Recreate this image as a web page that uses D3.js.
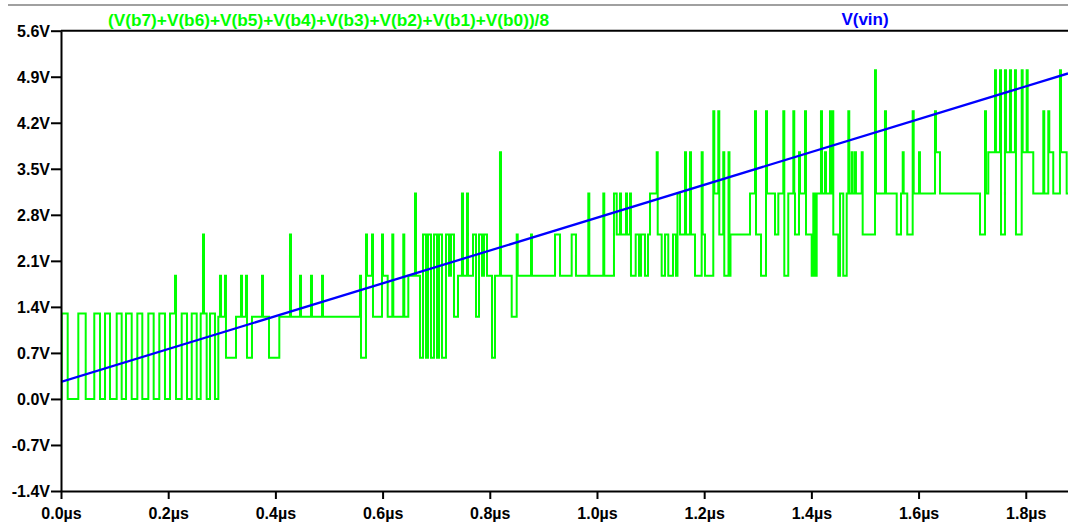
<!DOCTYPE html>
<html>
<head>
<meta charset="utf-8">
<script src="https://cdn.jsdelivr.net/npm/d3@7"></script>
<style>
  html, body { margin: 0; padding: 0; background: #fff; }
  svg { display: block; font-family: "Liberation Sans", Arial, sans-serif; font-weight: bold; }
</style>
</head>
<body>
<svg id="chart" width="1068" height="525"></svg>
<script>
// Transient result: ramp input and the averaged 8-bit converter output.
// Times in ns, voltages in V.

const timeTicks = [0, 200, 400, 600, 800, 1000, 1200, 1400, 1600, 1800];
const voltTicks = [-1.4, -0.7, 0.0, 0.7, 1.4, 2.1, 2.8, 3.5, 4.2, 4.9, 5.6];
const timeSpan = [0, 1878.8];
const voltSpan = [-1.4, 5.6];

const traceNames = ["(V(b7)+V(b6)+V(b5)+V(b4)+V(b3)+V(b2)+V(b1)+V(b0))/8", "V(vin)"];

// V(vin): linear ramp
const vinTime  = [0, 1878.8];
const vinVolts = [0.26, 4.95];

// averaged bit sum, held from each time until the next one
const adcTime = [
  0, 1.3, 12.5, 32.3, 46.1, 62.1, 72.8, 82.1, 91.4, 103.9,
  113.2, 121.3, 131.9, 142.4, 151.7, 162.9, 172.9, 183.4, 194.0, 203.4,
  212.7, 214.6, 225.2, 235.1, 243.9, 253.2, 260.6, 264.9, 266.8, 271.8,
  278.0, 287.3, 293.5, 296.6, 298.5, 306.0, 307.8, 326.5, 335.8, 337.7,
  345.2, 347.0, 356.3, 375.0, 376.9, 388.1, 407.3, 427.2, 429.1, 445.9,
  447.8, 466.4, 468.3, 487.0, 488.8, 557.8, 559.7, 569.0, 570.9, 580.2,
  582.1, 598.9, 600.8, 609.5, 618.1, 620.0, 638.6, 640.5, 648.0, 660.5,
  662.3, 669.8, 675.4, 681.0, 684.7, 690.3, 695.9, 701.5, 705.2, 710.8,
  718.3, 723.9, 727.6, 733.2, 740.7, 748.1, 750.0, 757.5, 759.3, 768.7,
  774.3, 779.9, 785.5, 789.2, 794.8, 804.1, 809.7, 819.0, 820.9, 840.9,
  850.2, 852.1, 876.9, 878.7, 921.7, 931.0, 952.8, 960.8, 983.8, 985.7,
  1011.8, 1013.6, 1031.7, 1036.8, 1042.9, 1044.8, 1054.1, 1056.0, 1061.6, 1063.4,
  1072.2, 1078.4, 1082.1, 1089.6, 1095.2, 1098.9, 1111.4, 1113.3, 1120.7, 1126.9,
  1133.0, 1141.8, 1147.4, 1150.2, 1154.9, 1164.2, 1166.1, 1173.5, 1175.4, 1182.9,
  1195.3, 1197.2, 1201.5, 1217.0, 1218.9, 1226.3, 1228.2, 1235.6, 1237.5, 1245.4,
  1247.2, 1249.1, 1285.5, 1294.8, 1296.7, 1306.0, 1315.3, 1317.2, 1332.1, 1338.3,
  1347.6, 1349.5, 1356.9, 1366.3, 1368.1, 1369.4, 1376.9, 1378.8, 1388.1, 1390.0,
  1400.6, 1403.6, 1406.7, 1409.9, 1417.9, 1419.8, 1425.4, 1427.3, 1434.7, 1436.6,
  1439.0, 1440.9, 1450.2, 1453.4, 1459.5, 1465.9, 1468.9, 1470.7, 1475.2, 1477.1,
  1481.4, 1483.2, 1493.9, 1495.7, 1518.7, 1520.5, 1537.3, 1539.2, 1559.2, 1567.2,
  1570.4, 1572.2, 1578.9, 1589.0, 1590.9, 1600.8, 1602.6, 1630.6, 1632.5, 1640.0,
  1714.6, 1723.9, 1725.8, 1730.1, 1742.6, 1744.4, 1751.9, 1753.8, 1761.2, 1763.1,
  1770.5, 1772.4, 1779.9, 1781.7, 1792.4, 1794.2, 1801.7, 1803.6, 1814.0, 1832.7,
  1834.5, 1842.0, 1843.9, 1851.3, 1863.8, 1865.7, 1876.3, 1878.8
];
const adcVolts = [
  0, 1.3, 0, 1.3, 0, 1.3, 0, 1.3, 0, 1.3,
  0, 1.3, 0, 1.3, 0, 1.3, 0, 1.3, 0, 1.3,
  1.875, 0, 1.3, 0, 1.3, 0, 1.3, 2.5, 1.3, 0,
  1.3, 0, 1.25, 1.875, 1.25, 1.875, 0.625, 1.25, 1.875, 1.25,
  1.875, 0.625, 1.25, 1.875, 1.25, 0.625, 1.25, 2.5, 1.25, 1.875,
  1.25, 1.875, 1.25, 1.875, 1.25, 1.875, 0.625, 2.5, 1.875, 2.5,
  1.25, 2.5, 1.875, 1.25, 2.5, 1.25, 2.5, 1.25, 1.875, 3.125,
  1.875, 0.625, 2.5, 0.625, 2.5, 0.625, 2.5, 0.625, 2.5, 0.625,
  2.5, 1.875, 2.5, 1.25, 1.875, 3.125, 1.875, 3.125, 1.875, 2.5,
  1.25, 2.5, 1.875, 2.5, 1.875, 0.625, 1.875, 3.75, 1.875, 1.25,
  2.5, 1.875, 2.5, 1.875, 2.5, 1.875, 2.5, 1.875, 3.125, 1.875,
  3.125, 1.875, 3.125, 2.5, 3.125, 2.5, 3.125, 2.5, 3.125, 1.875,
  2.5, 1.875, 2.5, 1.875, 2.5, 3.125, 3.75, 2.5, 1.875, 2.5,
  1.875, 2.5, 1.875, 3.125, 2.5, 3.75, 2.5, 3.75, 2.5, 1.875,
  3.75, 2.5, 1.875, 4.375, 3.125, 4.375, 2.5, 3.75, 1.875, 3.75,
  1.875, 2.5, 3.125, 4.375, 2.5, 1.875, 4.375, 3.125, 2.5, 3.125,
  4.375, 1.875, 3.125, 4.375, 3.125, 2.5, 3.75, 3.125, 4.375, 2.5,
  1.875, 3.125, 1.875, 3.125, 4.375, 3.125, 3.75, 3.125, 4.375, 3.125,
  4.375, 2.5, 1.875, 3.125, 1.875, 3.125, 4.375, 3.125, 3.75, 3.125,
  3.75, 3.125, 3.75, 2.5, 5.0, 3.125, 4.375, 3.125, 2.5, 3.125,
  3.75, 3.125, 2.5, 4.375, 3.125, 3.75, 3.125, 4.375, 3.75, 3.125,
  2.5, 4.375, 3.125, 3.75, 5.0, 3.75, 5.0, 2.5, 5.0, 3.75,
  5.0, 3.75, 5.0, 2.5, 5.0, 3.75, 5.0, 3.75, 3.125, 4.375,
  3.125, 4.375, 3.75, 3.125, 5.0, 3.75, 3.125, 3.125
];

const svg = d3.select("#chart");
const plot = { left: 61, right: 1068, top: 30.7, bottom: 491 };

const x = d3.scaleLinear().domain(timeSpan).range([plot.left, plot.right]);
const y = d3.scaleLinear().domain(voltSpan).range([plot.bottom, plot.top]);

// window strip at the very top
svg.append("line")
  .attr("x1", 8).attr("x2", 1068).attr("y1", 5).attr("y2", 5)
  .attr("stroke", "#a0a0a0").attr("stroke-width", 2);

// trace names
svg.append("text")
  .attr("x", 108).attr("y", 25.5)
  .attr("font-size", 17)
  .attr("textLength", 441).attr("lengthAdjust", "spacingAndGlyphs")
  .attr("fill", "#00ff00")
  .text(traceNames[0]);
svg.append("text")
  .attr("x", 865).attr("y", 24.5)
  .attr("font-size", 17)
  .attr("text-anchor", "middle")
  .attr("fill", "#0000ff")
  .text(traceNames[1]);

// clip traces to the plot pane
svg.append("defs").append("clipPath").attr("id", "pane")
  .append("rect")
  .attr("x", plot.left).attr("y", plot.top)
  .attr("width", plot.right - plot.left).attr("height", plot.bottom - plot.top);

const adc = adcTime.map((t, i) => [t, adcVolts[i]]);
const vin = vinTime.map((t, i) => [t, vinVolts[i]]);

const stepLine = d3.line()
  .x(d => x(d[0])).y(d => y(d[1]))
  .curve(d3.curveStepAfter);
const straight = d3.line()
  .x(d => x(d[0])).y(d => y(d[1]));

const traces = svg.append("g").attr("clip-path", "url(#pane)");
traces.append("path")
  .datum(adc)
  .attr("d", stepLine)
  .attr("fill", "none")
  .attr("stroke", "#00ff00")
  .attr("stroke-width", 2);
traces.append("path")
  .datum(vin)
  .attr("d", straight)
  .attr("fill", "none")
  .attr("stroke", "#0000ff")
  .attr("stroke-width", 2.3);

// top border of the pane
svg.append("line")
  .attr("x1", plot.left).attr("x2", plot.right)
  .attr("y1", plot.top).attr("y2", plot.top)
  .attr("stroke", "#000").attr("stroke-width", 2);

// axes
const yAxis = d3.axisLeft(y)
  .tickValues(voltTicks)
  .tickSize(10).tickSizeOuter(0).tickPadding(1)
  .tickFormat(d => d.toFixed(1) + "V");
const xAxis = d3.axisBottom(x)
  .tickValues(timeTicks)
  .tickSize(8).tickSizeOuter(0).tickPadding(9)
  .tickFormat(d => (d / 1000).toFixed(1) + "µs");

const gy = svg.append("g").attr("transform", `translate(${plot.left},0)`).call(yAxis);
const gx = svg.append("g").attr("transform", `translate(0,${plot.bottom})`).call(xAxis);

[gx, gy].forEach(g => {
  g.select(".domain").attr("stroke", "#000").attr("stroke-width", 2);
  g.selectAll(".tick line").attr("stroke", "#000").attr("stroke-width", 2);
  g.selectAll(".tick text")
    .attr("fill", "#000")
    .attr("font-size", 16)
    .attr("font-weight", "bold")
    .attr("font-family", "\"Liberation Sans\", Arial, sans-serif");
});
gy.selectAll(".tick text").attr("dy", "0.36em");
</script>
</body>
</html>
